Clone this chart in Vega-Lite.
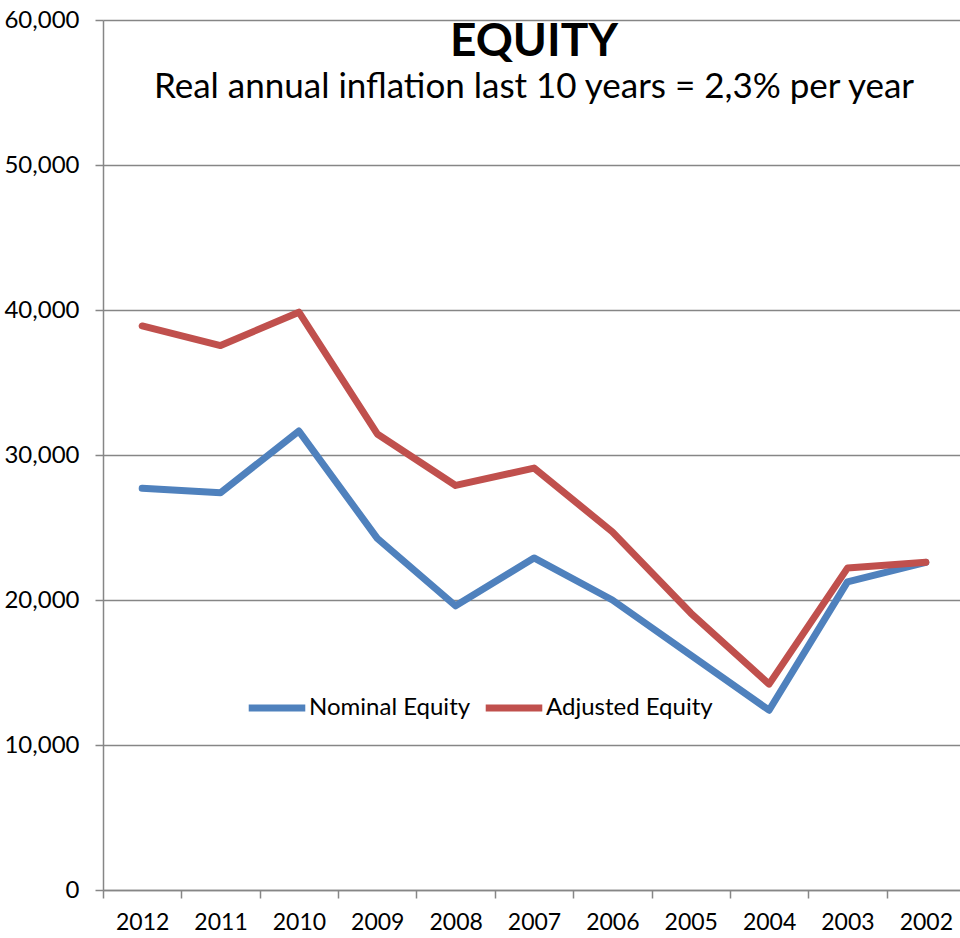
{
  "$schema": "https://vega.github.io/schema/vega-lite/v6.json",
  "autosize": "none",
  "width": 862,
  "height": 870,
  "padding": {"left": 103, "top": 20, "right": 0, "bottom": 48},
  "background": "white",
  "config": {"view": {"stroke": null}, "font": "Lato"},
  "title": {
    "text": "EQUITY",
    "subtitle": "Real annual inflation last 10 years = 2,3% per year",
    "anchor": "middle",
    "orient": "top",
    "offset": -98,
    "font": "Lato",
    "fontSize": 46,
    "fontWeight": "bold",
    "color": "black",
    "subtitleFont": "Lato",
    "subtitleFontSize": 35,
    "subtitleColor": "black",
    "subtitlePadding": 4
  },
  "data": {
    "values": [
      {"year": "2012", "series": "Nominal Equity", "value": 27700},
      {"year": "2011", "series": "Nominal Equity", "value": 27400},
      {"year": "2010", "series": "Nominal Equity", "value": 31650},
      {"year": "2009", "series": "Nominal Equity", "value": 24250},
      {"year": "2008", "series": "Nominal Equity", "value": 19600},
      {"year": "2007", "series": "Nominal Equity", "value": 22900},
      {"year": "2006", "series": "Nominal Equity", "value": 20000},
      {"year": "2005", "series": "Nominal Equity", "value": 16200},
      {"year": "2004", "series": "Nominal Equity", "value": 12400},
      {"year": "2003", "series": "Nominal Equity", "value": 21250},
      {"year": "2002", "series": "Nominal Equity", "value": 22600},
      {"year": "2012", "series": "Adjusted Equity", "value": 38900},
      {"year": "2011", "series": "Adjusted Equity", "value": 37550},
      {"year": "2010", "series": "Adjusted Equity", "value": 39850},
      {"year": "2009", "series": "Adjusted Equity", "value": 31450},
      {"year": "2008", "series": "Adjusted Equity", "value": 27900},
      {"year": "2007", "series": "Adjusted Equity", "value": 29100},
      {"year": "2006", "series": "Adjusted Equity", "value": 24700},
      {"year": "2005", "series": "Adjusted Equity", "value": 19100},
      {"year": "2004", "series": "Adjusted Equity", "value": 14200},
      {"year": "2003", "series": "Adjusted Equity", "value": 22200},
      {"year": "2002", "series": "Adjusted Equity", "value": 22600}
    ]
  },
  "mark": {"type": "line", "strokeWidth": 7, "strokeCap": "round", "strokeJoin": "round"},
  "encoding": {
    "x": {
      "field": "year",
      "type": "ordinal",
      "sort": "descending",
      "bandPosition": 0.5,
      "scale": {"type": "band", "paddingInner": 0, "paddingOuter": 0},
      "axis": {
        "title": null,
        "labelAngle": 0,
        "labelFont": "Lato",
        "labelFontSize": 23,
        "labelColor": "black",
        "labelPadding": 13,
        "tickBand": "extent",
        "tickSize": 8,
        "tickColor": "#868686",
        "tickWidth": 1.5,
        "domainColor": "#868686",
        "domainWidth": 1.5,
        "grid": false
      }
    },
    "y": {
      "field": "value",
      "type": "quantitative",
      "scale": {"domain": [0, 60000], "nice": false},
      "axis": {
        "title": null,
        "values": [0, 10000, 20000, 30000, 40000, 50000, 60000],
        "format": ",d",
        "labelFont": "Lato",
        "labelFontSize": 24,
        "labelColor": "black",
        "labelPadding": 16,
        "tickSize": 8,
        "tickColor": "#868686",
        "tickWidth": 1.5,
        "domainColor": "#868686",
        "domainWidth": 1.5,
        "grid": true,
        "gridColor": "#868686",
        "gridWidth": 1.5
      }
    },
    "color": {
      "field": "series",
      "type": "nominal",
      "scale": {"domain": ["Nominal Equity", "Adjusted Equity"], "range": ["#4F81BD", "#C0504D"]},
      "legend": {
        "title": null,
        "orient": "none",
        "legendX": 142,
        "legendY": 656,
        "direction": "horizontal",
        "symbolType": "stroke",
        "symbolSize": 3200,
        "symbolStrokeWidth": 7,
        "labelFont": "Lato",
        "labelFontSize": 24,
        "labelColor": "black",
        "labelOffset": 0,
        "columnPadding": 0,
        "labelLimit": 300
      }
    }
  }
}
